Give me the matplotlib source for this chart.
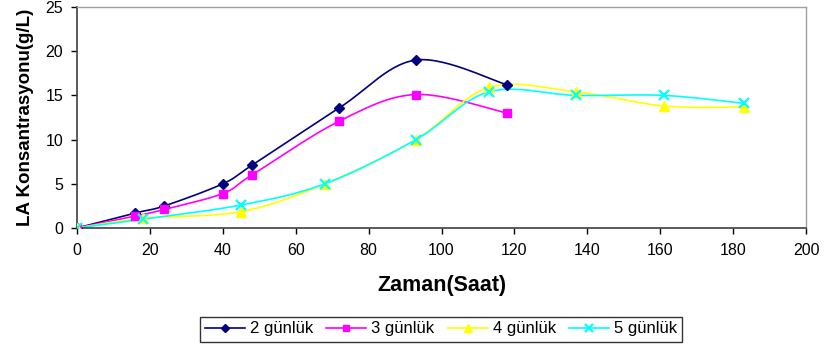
import matplotlib
matplotlib.use("Agg")
import matplotlib.pyplot as plt
import numpy as np

plt.rcParams["font.family"] = ["Liberation Sans", "DejaVu Sans"]

# Ölçüm zamanları (saat) ve LA konsantrasyonları (g/L)
t_2 = [0, 16, 24, 40, 48, 72, 93, 118]
la_2 = [0, 1.7, 2.5, 5.0, 7.1, 13.6, 19.0, 16.2]

t_3 = [0, 16, 24, 40, 48, 72, 93, 118]
la_3 = [0, 1.35, 2.1, 3.9, 6.0, 12.1, 15.1, 13.0]

t_4 = [0, 18, 45, 68, 93, 113, 137, 161, 183]
la_4 = [0, 1.1, 1.85, 5.0, 10.0, 15.9, 15.4, 13.8, 13.7]

t_5 = [0, 18, 45, 68, 93, 113, 137, 161, 183]
la_5 = [0, 1.0, 2.6, 5.0, 10.0, 15.4, 15.0, 15.0, 14.1]

labels = ["2 günlük", "3 günlük", "4 günlük", "5 günlük"]


def smooth(x, y, n=30):
    """Excel tarzı yumuşatılmış çizgi (Catmull-Rom Bezier)."""
    x = np.asarray(x, float)
    y = np.asarray(y, float)
    px = np.concatenate([[x[0]], x, [x[-1]]])
    py = np.concatenate([[y[0]], y, [y[-1]]])
    xs, ys = [], []
    s = np.linspace(0, 1, n)
    for i in range(1, len(px) - 2):
        p0 = np.array([px[i], py[i]])
        p3 = np.array([px[i + 1], py[i + 1]])
        c1 = p0 + (np.array([px[i + 1], py[i + 1]]) - np.array([px[i - 1], py[i - 1]])) / 6
        c2 = p3 - (np.array([px[i + 2], py[i + 2]]) - np.array([px[i], py[i]])) / 6
        b = ((1 - s) ** 3)[:, None] * p0 + (3 * (1 - s) ** 2 * s)[:, None] * c1 \
            + (3 * (1 - s) * s ** 2)[:, None] * c2 + (s ** 3)[:, None] * p3
        xs.extend(b[:, 0])
        ys.extend(b[:, 1])
    return xs, ys


fig = plt.figure(figsize=(8.27, 3.47), dpi=100)
ax = fig.add_axes([77 / 827, 1 - 228 / 347, (806 - 77) / 827, (228 - 7) / 347])

series = [
    (t_2, la_2, "#000080", "D", 5.5, 1.0),
    (t_3, la_3, "#FF00FF", "s", 6, 1.0),
    (t_4, la_4, "#FFFF00", "^", 7, 1.0),
    (t_5, la_5, "#00FFFF", "x", 7, 1.6),
]

handles = []
for (t, la, col, mk, ms, mew), lab in zip(series, labels):
    sx, sy = smooth(t, la)
    ax.plot(sx, sy, color=col, lw=1.2, zorder=2)
    ax.plot(t, la, linestyle="none", marker=mk, ms=ms, color=col, mew=mew, zorder=3)
    h, = ax.plot([], [], color=col, lw=1.2, marker=mk, ms=ms - 1, mew=mew)
    handles.append(h)

ax.set_xlim(0, 200)
ax.set_ylim(0, 25)
ax.set_xticks(range(0, 201, 20))
ax.set_yticks(range(0, 26, 5))
ax.tick_params(direction="out", length=4, width=1, labelsize=11.5, colors="#000000")
ax.tick_params(axis="x", pad=7)
ax.tick_params(axis="y", pad=6)

for side in ["left", "bottom"]:
    ax.spines[side].set_color("#404040")
    ax.spines[side].set_linewidth(1.2)
for side in ["top", "right"]:
    ax.spines[side].set_color("#A0A0A0")
    ax.spines[side].set_linewidth(1.0)

ax.set_xlabel("Zaman(Saat)", fontsize=15.5, fontweight="bold", labelpad=12)
ax.set_ylabel("LA Konsantrasyonu(g/L)", fontsize=13.5, fontweight="bold", labelpad=8)

fig.legend(handles, labels, loc="center", bbox_to_anchor=(441 / 827, 1 - 329 / 347),
           ncol=4, fontsize=12, frameon=True, fancybox=False, edgecolor="#000000",
           handlelength=2.4, handletextpad=0.3, columnspacing=0.8, borderpad=0.3)

fig.savefig("out.png", dpi=100)
